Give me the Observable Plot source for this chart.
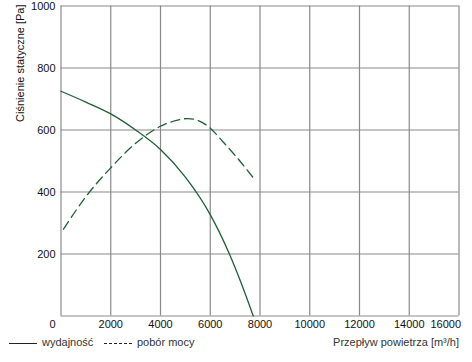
<!DOCTYPE html>
<html>
<head>
<meta charset="utf-8">
<script src="https://cdn.jsdelivr.net/npm/d3@7"></script>
<script src="https://cdn.jsdelivr.net/npm/@observablehq/plot@0.6"></script>
<style>
  html, body { margin: 0; padding: 0; background: #fff; }
  #chart { width: 472px; }
  .foot { position: relative; width: 472px; height: 22px; font: 11px "Liberation Sans", Arial, sans-serif; color: #333; }
  .foot span { position: absolute; top: 4px; white-space: nowrap; }
  .foot svg { position: absolute; top: 10px; }
</style>
</head>
<body>
<div id="chart"></div>
<div class="foot" id="foot"></div>
<script>
// Data
const flowSolid  = [0, 1000, 2000, 3000, 4000, 5000, 6000, 6770, 7250, 7730];
const pressSolid = [725, 690, 652, 600, 537, 448, 327, 200, 105, 0];
const flowDash   = [100, 1000, 2000, 3000, 4000, 4600, 5100, 5500, 6000, 6500, 7000, 7730];
const powerDash  = [280, 385, 478, 557, 612, 630, 637, 631, 606, 563, 518, 446];
const xTicks = [0, 2000, 4000, 6000, 8000, 10000, 12000, 14000, 16000];
const yTicks = [0, 200, 400, 600, 800, 1000];
const seriesNames = ["wydajność", "pobór mocy"];
const yTitle = "Ciśnienie statyczne [Pa]";
const xTitle = "Przepływ powietrza [m³/h]";

const solid = flowSolid.map((x, i) => ({x, y: pressSolid[i]}));
const dash = flowDash.map((x, i) => ({x, y: powerDash[i]}));
const green = "#1f5f33";
const grid = "#8a8a8a";
const xMax = xTicks[xTicks.length - 1];

const plot = Plot.plot({
  width: 472,
  height: 332,
  marginTop: 5.5,
  marginBottom: 16.5,
  marginLeft: 60.5,
  marginRight: 13.5,
  x: {domain: [0, xMax], axis: null},
  y: {domain: [0, 1000], axis: null},
  style: {fontFamily: "'Liberation Sans', Arial, sans-serif", fontSize: "11px", color: "#111", background: "#fff"},
  marks: [
    Plot.ruleX(xTicks, {x: d => d, stroke: grid, strokeWidth: 1.2}),
    Plot.ruleY(yTicks, {y: d => d, stroke: grid, strokeWidth: 1.2}),
    Plot.line(dash, {x: "x", y: "y", stroke: green, strokeWidth: 1.3, strokeDasharray: "9,5", curve: "monotone-x"}),
    Plot.line(solid, {x: "x", y: "y", stroke: green, strokeWidth: 1.3, curve: "monotone-x"}),
    Plot.text(xTicks.filter(d => d > 0 && d < xMax), {x: d => d, y: () => 0, dy: 8.5, text: d => String(d), fill: "#111"}),
    Plot.text([xMax], {x: d => d, y: () => 0, dy: 8.5, dx: 2, textAnchor: "end", text: d => String(d), fill: "#111"}),
    Plot.text(yTicks.filter(d => d > 0), {x: () => 0, y: d => d, dx: -5.5, textAnchor: "end", text: d => String(d), fill: "#111"}),
    Plot.text([0], {x: d => d, y: d => d, dx: -8.5, dy: 8.5, text: d => String(d), fill: "#111"}),
    Plot.text([yTitle], {frameAnchor: "top-left", rotate: -90, textAnchor: "end", lineAnchor: "middle", dx: -40.5, dy: -1.5, text: d => d, fill: "#111"})
  ]
});
document.getElementById("chart").appendChild(plot);

const foot = document.getElementById("foot");
foot.innerHTML =
  `<svg width="30" height="4" style="left:9px"><line x1="0" y1="1.5" x2="28" y2="1.5" stroke="#222" stroke-width="1"/></svg>` +
  `<span style="left:42px">${seriesNames[0]}</span>` +
  `<svg width="30" height="4" style="left:104px"><line x1="0" y1="1.5" x2="29" y2="1.5" stroke="#222" stroke-width="1" stroke-dasharray="3,2"/></svg>` +
  `<span style="left:137px">${seriesNames[1]}</span>` +
  `<span style="right:13px">${xTitle}</span>`;
</script>
</body>
</html>
